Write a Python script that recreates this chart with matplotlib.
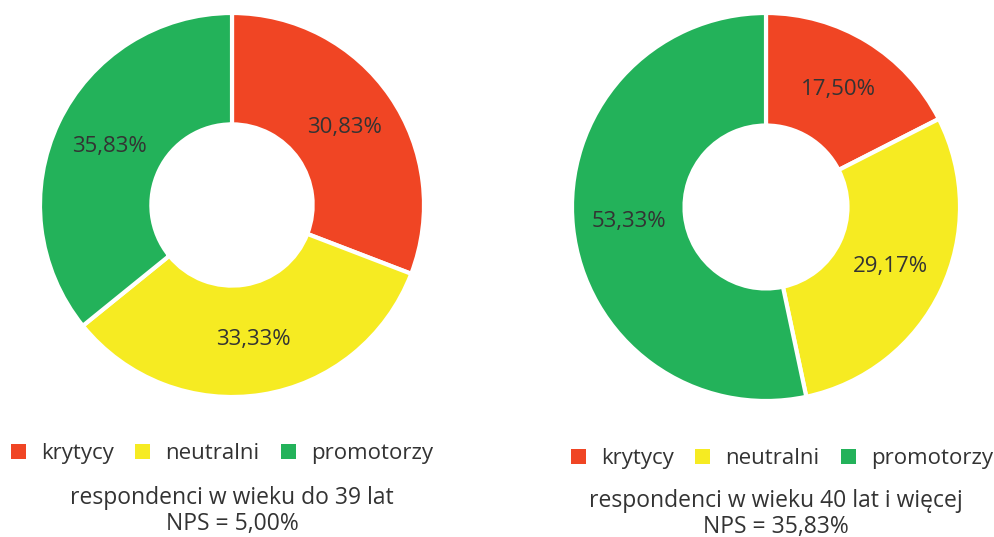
import matplotlib
matplotlib.use("Agg")
import matplotlib.pyplot as plt
from matplotlib.patches import Patch
import numpy as np

plt.rcParams['font.family'] = ['Open Sans', 'DejaVu Sans']

categories = ["krytycy", "neutralni", "promotorzy"]
colors = ["#F04524", "#F6EB22", "#23B25A"]
young = [30.83, 33.33, 35.83]
old = [17.50, 29.17, 53.33]
titles = ["respondenci w wieku do 39 lat\nNPS = 5,00%",
          "respondenci w wieku 40 lat i więcej\nNPS = 35,83%"]

W, H = 994, 537
fig = plt.figure(figsize=(W / 100, H / 100), dpi=100)
text_col = "#333333"

def fmt(p):
    return ("%.2f%%" % p).replace(".", ",")

def donut(rect, vals):
    ax = fig.add_axes(rect)
    wedges, texts = ax.pie(vals, colors=colors, startangle=90, counterclock=False,
                           radius=1, wedgeprops=dict(width=0.58, edgecolor="white", linewidth=3))
    for w, v in zip(wedges, vals):
        ang = np.deg2rad((w.theta1 + w.theta2) / 2)
        ax.text(0.71 * np.cos(ang), 0.71 * np.sin(ang), fmt(v), ha="center", va="center",
                fontsize=16, color=text_col)
    ax.set_xlim(-1.02, 1.02)
    ax.set_ylim(-1.02, 1.02)
    ax.set_aspect("equal")
    ax.axis("off")
    return ax

# left: center (232,205) r 192 ; right: center (766,207) r 194
def rect_for(cx, cy, r):
    r2 = r * 1.02
    return [(cx - r2) / W, (H - cy - r2) / H, 2 * r2 / W, 2 * r2 / H]

donut(rect_for(232, 205, 192), young)
donut(rect_for(766, 207, 194), old)

handles = [Patch(facecolor=c, edgecolor="none") for c in colors]
for x0, y0 in [(-9 / W, 1 - 423 / H), (551 / W, 1 - 428 / H)]:
    fig.legend(handles, categories, loc="upper left", bbox_to_anchor=(x0, y0), ncol=3,
               frameon=False, fontsize=16, handlelength=0.68, handleheight=0.68,
               handletextpad=0.68, columnspacing=0.95, labelcolor=text_col)

fig.text(232 / W, 1 - 511 / H, titles[0], ha="center", va="center", fontsize=16.5,
         color=text_col, linespacing=1.1)
fig.text(776 / W, 1 - 514 / H, titles[1], ha="center", va="center", fontsize=16.5,
         color=text_col, linespacing=1.1)

fig.savefig("out.png", dpi=100)
